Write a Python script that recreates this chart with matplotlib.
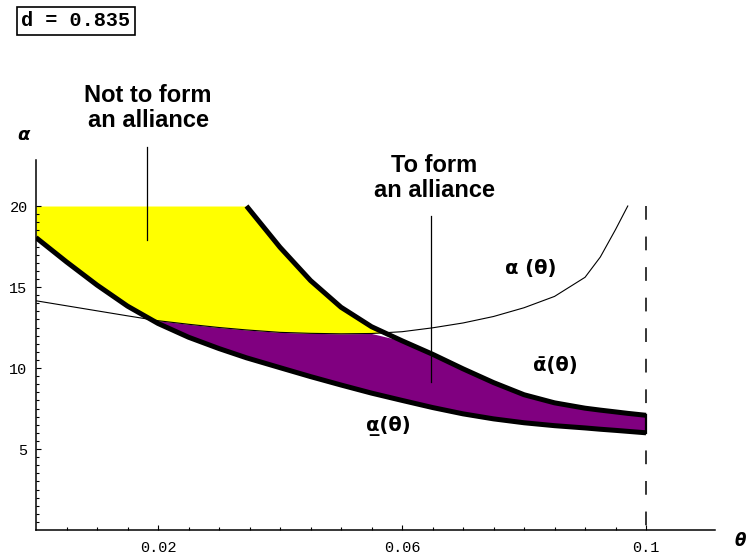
import numpy as np
import matplotlib as mpl
mpl.use("Agg")
import matplotlib.pyplot as plt
from matplotlib.lines import Line2D
from matplotlib.ticker import FixedLocator

mpl.rcParams.update({
    "font.family": "DejaVu Sans",
    "axes.linewidth": 1.1,
})

# ---------------------------------------------------------------- data
theta = np.array([0.0, 0.005, 0.01, 0.015, 0.02, 0.025, 0.03, 0.0345, 0.04,
                  0.045, 0.05, 0.055, 0.06, 0.065, 0.07, 0.075, 0.08, 0.085,
                  0.09, 0.0925, 0.095, 0.097, 0.1])

# lower bound  alpha_(theta)  (thick)
alpha_low = np.array([18.05, 16.55, 15.12, 13.82, 12.75, 11.9, 11.2, 10.63, 10.02,
                      9.47, 8.95, 8.45, 8.0, 7.56, 7.17, 6.86, 6.62, 6.44,
                      6.3, 6.22, 6.15, 6.09, 6.0])

# upper bound  alpha-bar(theta)  (thick), off the top of the plot for small theta
nan = np.nan
alpha_bar = np.array([nan, nan, nan, nan, nan, nan, nan, 20.0, 17.45,
                      15.4, 13.75, 12.55, 11.68, 10.85, 9.95, 9.1, 8.35, 7.85,
                      7.52, 7.4, 7.29, 7.2, 7.08])

# alpha(theta)  (thin)
alpha_mid = np.array([14.15, 13.84, 13.53, 13.22, 12.92, 12.7, 12.5, 12.35, 12.2,
                      12.14, 12.11, 12.13, 12.24, 12.48, 12.78, 13.18, 13.72, 14.42,
                      15.6, 16.85, 18.55, 20.0, nan])

alpha_cap = 20.0       # top of the shaded region
theta_max = 0.1        # dashed vertical bound
d_label = "d = 0.835"

xtick_vals = [0.02, 0.06, 0.1]
xtick_labels = ["0.02", "0.06", "0.1"]
ytick_vals = [5, 10, 15, 20]
ytick_labels = ["5", "10", "15", "20"]

C_YEL = "#FFFF00"
C_PUR = "#800080"

# ---------------------------------------------------------------- figure
W, H = 746, 560
fig = plt.figure(figsize=(W / 100, H / 100), dpi=100)


def fp(x, y):
    # pixel (from top-left) -> figure fraction
    return x / W, 1 - y / H


ax = fig.add_axes([36 / W, 30 / H, 679 / W, 370 / H])
ax.set_xlim(0, 0.1113)
ax.set_ylim(0, 22.84)

# shaded regions
yb = np.fmax(alpha_low, alpha_mid)
yt = np.fmin(alpha_bar, alpha_cap)
ax.fill_between(theta, yb, yt, where=(yt > yb) & ~np.isnan(alpha_mid),
                interpolate=True, color=C_YEL, lw=0, zorder=1)

pt = np.fmin(alpha_mid, alpha_bar)
ax.fill_between(theta, alpha_low, pt, where=pt > alpha_low,
                interpolate=True, color=C_PUR, lw=0, zorder=1)

# curves
ax.plot(theta, alpha_mid, color="black", lw=0.8, zorder=3)
ax.plot(theta, alpha_low, color="black", lw=3.6, solid_capstyle="butt",
        solid_joinstyle="round", zorder=4)
ax.plot(theta, alpha_bar, color="black", lw=3.6, solid_capstyle="butt",
        solid_joinstyle="round", zorder=4)
ax.plot([theta[-1], theta[-1]], [alpha_low[-1], alpha_bar[-1]], color="black",
        lw=1.6, zorder=4)
ax.plot([theta_max, theta_max], [alpha_cap, 0], color="black", lw=1.1,
        dashes=(9, 11), zorder=2)

# axes cosmetics
for s in ("top", "right"):
    ax.spines[s].set_visible(False)

ax.xaxis.set_major_locator(FixedLocator(xtick_vals))
ax.set_xticklabels(xtick_labels)
ax.xaxis.set_minor_locator(FixedLocator(np.arange(0.005, 0.1001, 0.005)))
ax.yaxis.set_major_locator(FixedLocator(ytick_vals))
ax.set_yticklabels(ytick_labels)
ax.yaxis.set_minor_locator(FixedLocator(np.arange(0.5, 20.01, 0.5)))

ax.tick_params(which="major", direction="in", length=3.5, width=0.8)
ax.tick_params(which="minor", direction="in", length=2.2, width=0.8)
ax.tick_params(axis="x", which="major", pad=8)
ax.tick_params(axis="y", which="major", pad=6)
for lab in ax.get_xticklabels() + ax.get_yticklabels():
    lab.set_family("Liberation Mono")
    lab.set_fontsize(11)

# axis letters
fig.text(*fp(23, 135), "α", fontsize=13, fontweight="bold", style="italic",
         ha="center", va="center")
fig.text(*fp(740, 541), "θ", fontsize=12, fontweight="bold", style="italic",
         ha="center", va="center")

# parameter box
fig.text(*fp(76, 21), d_label, family="Liberation Mono", fontweight="bold",
         fontsize=14.5, ha="center", va="center",
         bbox=dict(boxstyle="square,pad=0.2", fc="white", ec="black", lw=1.2))

# region labels with pointer lines
lab_font = dict(family=["Liberation Sans Narrow", "Liberation Sans"],
                fontweight="bold", fontsize=17, ha="center", va="center",
                linespacing=1.15)
fig.text(*fp(148, 108), "Not to form\nan alliance", **lab_font)
fig.text(*fp(434, 178), "To form\nan alliance", **lab_font)

for x0, y0, y1 in [(147, 147, 240), (431, 216, 382)]:
    (ax0, ay0), (ax1, ay1) = fp(x0, y0), fp(x0, y1)
    fig.add_artist(Line2D([ax0, ax1], [ay0, ay1], color="black", lw=0.9,
                          transform=fig.transFigure, zorder=5))

# curve labels
cur_font = dict(fontweight="bold", fontsize=14, ha="center", va="center")
fig.text(*fp(531, 268), "α (θ)", **cur_font)
fig.text(*fp(555, 366), "α\u0304(θ)", **cur_font)
fig.text(*fp(388, 426), "α\u0332(θ)", **cur_font)

fig.savefig("out.png", dpi=100)
plt.close(fig)
